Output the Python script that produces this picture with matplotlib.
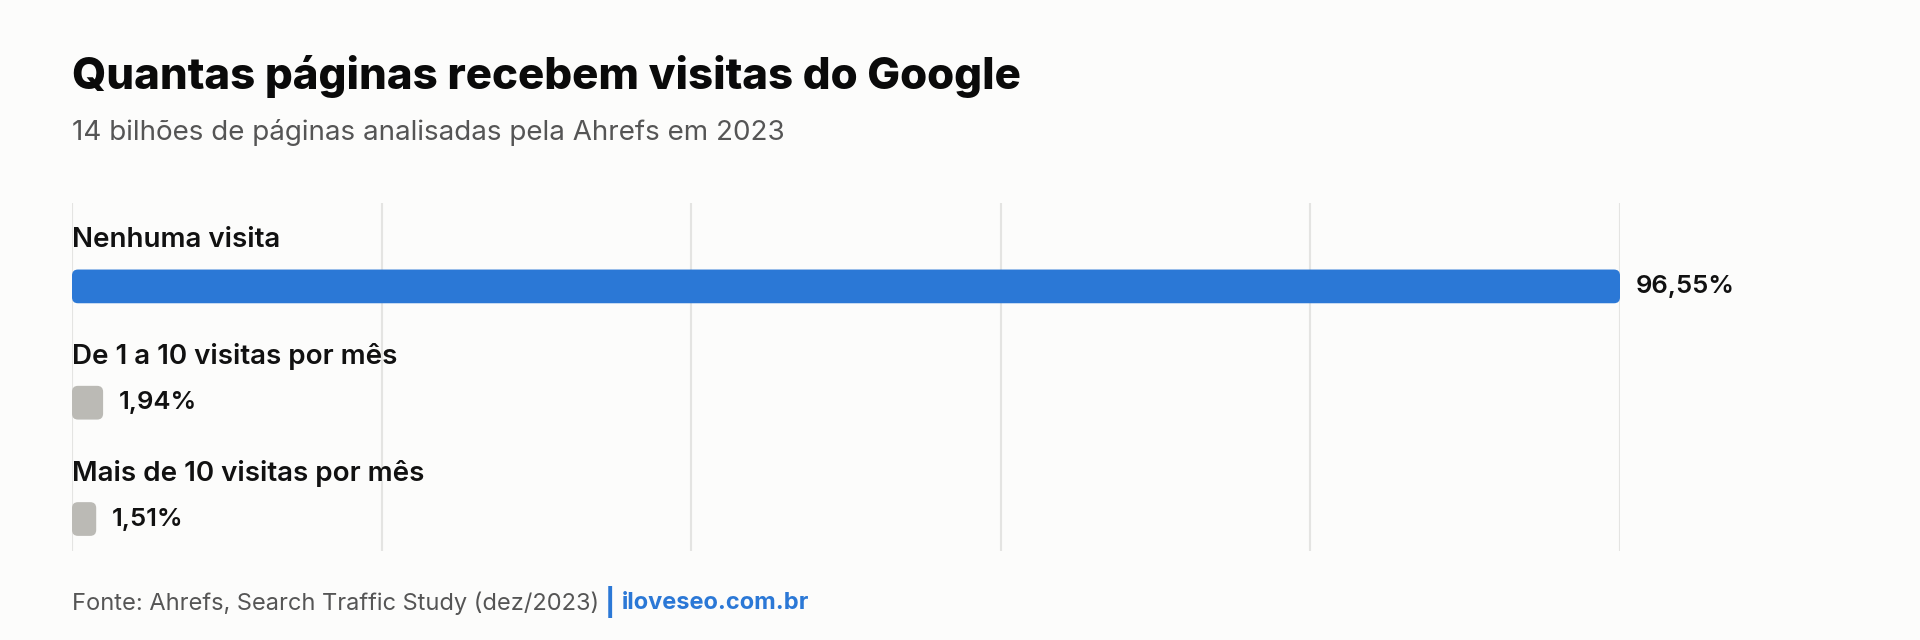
import matplotlib
matplotlib.use("Agg")
import matplotlib.pyplot as plt
import numpy as np
from matplotlib.patches import FancyBboxPatch

plt.rcParams['font.family'] = ['Inter', 'DejaVu Sans']

# ---- data ----
categories = ["Nenhuma visita", "De 1 a 10 visitas por mês", "Mais de 10 visitas por mês"]
values = [96.55, 1.94, 1.51]
value_labels = ["96,55%", "1,94%", "1,51%"]
bar_colors = ["#2B78D6", "#BBBAB5", "#BBBAB5"]

title = "Quantas páginas recebem visitas do Google"
subtitle = "14 bilhões de páginas analisadas pela Ahrefs em 2023"
source = "Fonte: Ahrefs, Search Traffic Study (dez/2023)"
site = "iloveseo.com.br"

BG = "#FCFCFB"
W, H = 1920, 640
fig = plt.figure(figsize=(19.2, 6.4), dpi=100, facecolor=BG)

# axes placement (pixels)
left, right, top, bottom = 72, 1620, 203, 551
ax = fig.add_axes([left / W, 1 - bottom / H, (right - left) / W, (bottom - top) / H])
ax.set_facecolor(BG)

xmax = max(values)
ax.set_xlim(0, xmax)
ax.set_ylim(2.275, -0.717)

ypos = np.arange(len(categories))
bar_h = 0.29
bars = ax.barh(ypos, values, height=bar_h, color=bar_colors)

# convert to rounded bars
px_x = xmax / (right - left)
px_y = (2.275 + 0.717) / (bottom - top)
r_px = 6
for rect, c in zip(bars, bar_colors):
    x0, y0 = rect.get_x(), rect.get_y()
    w, h = rect.get_width(), rect.get_height()
    rect.set_visible(False)
    fb = FancyBboxPatch((x0, y0), w, h,
                        boxstyle=f"round,pad=0,rounding_size={r_px * px_x}",
                        mutation_aspect=px_y / px_x,
                        facecolor=c, edgecolor="none", zorder=3)
    ax.add_patch(fb)

# grid
ax.set_xticks(np.linspace(0, xmax, 6))
ax.set_yticks([])
ax.tick_params(axis='x', length=0, labelbottom=False)
ax.grid(axis='x', color="#E4E4E2", linewidth=1.5, zorder=0)
ax.set_axisbelow(True)
for s in ax.spines.values():
    s.set_visible(False)

# category labels & value labels
for i, (cat, v, lab) in enumerate(zip(categories, values, value_labels)):
    ax.text(0, i - 0.395, cat, ha='left', va='center', fontsize=20,
            fontweight='semibold', color="#111111")
    ax.annotate(lab, xy=(v, i), xytext=(16, 0), textcoords='offset pixels',
                ha='left', va='center', fontsize=18.5, fontweight='semibold',
                color="#111111")

# title & subtitle
fig.text(72 / W, 1 - 76 / H, title, ha='left', va='center', fontsize=31.5,
         fontweight='heavy', color="#0A0A0A")
fig.text(72 / W, 1 - 132 / H, subtitle, ha='left', va='center', fontsize=20,
         color="#555555")

# footer
t1 = fig.text(72 / W, 1 - 603 / H, source, ha='left', va='center', fontsize=17,
              color="#555555")
t2 = fig.text(0, 0, "|", ha='left', va='center', fontsize=20, color="#2B78D6",
              fontweight='bold')
t3 = fig.text(0, 0, site, ha='left', va='center', fontsize=17,
              color="#2B78D6", fontweight='bold')
fig.canvas.draw()
r = fig.canvas.get_renderer()
bb1 = t1.get_window_extent(r)
t2.set_position(((bb1.x1 + 6) / W, 1 - 602 / H))
fig.canvas.draw()
bb2 = t2.get_window_extent(r)
t3.set_position(((bb2.x1 + 6) / W, 1 - 603 / H))

fig.savefig("out.png", dpi=100, facecolor=BG)
